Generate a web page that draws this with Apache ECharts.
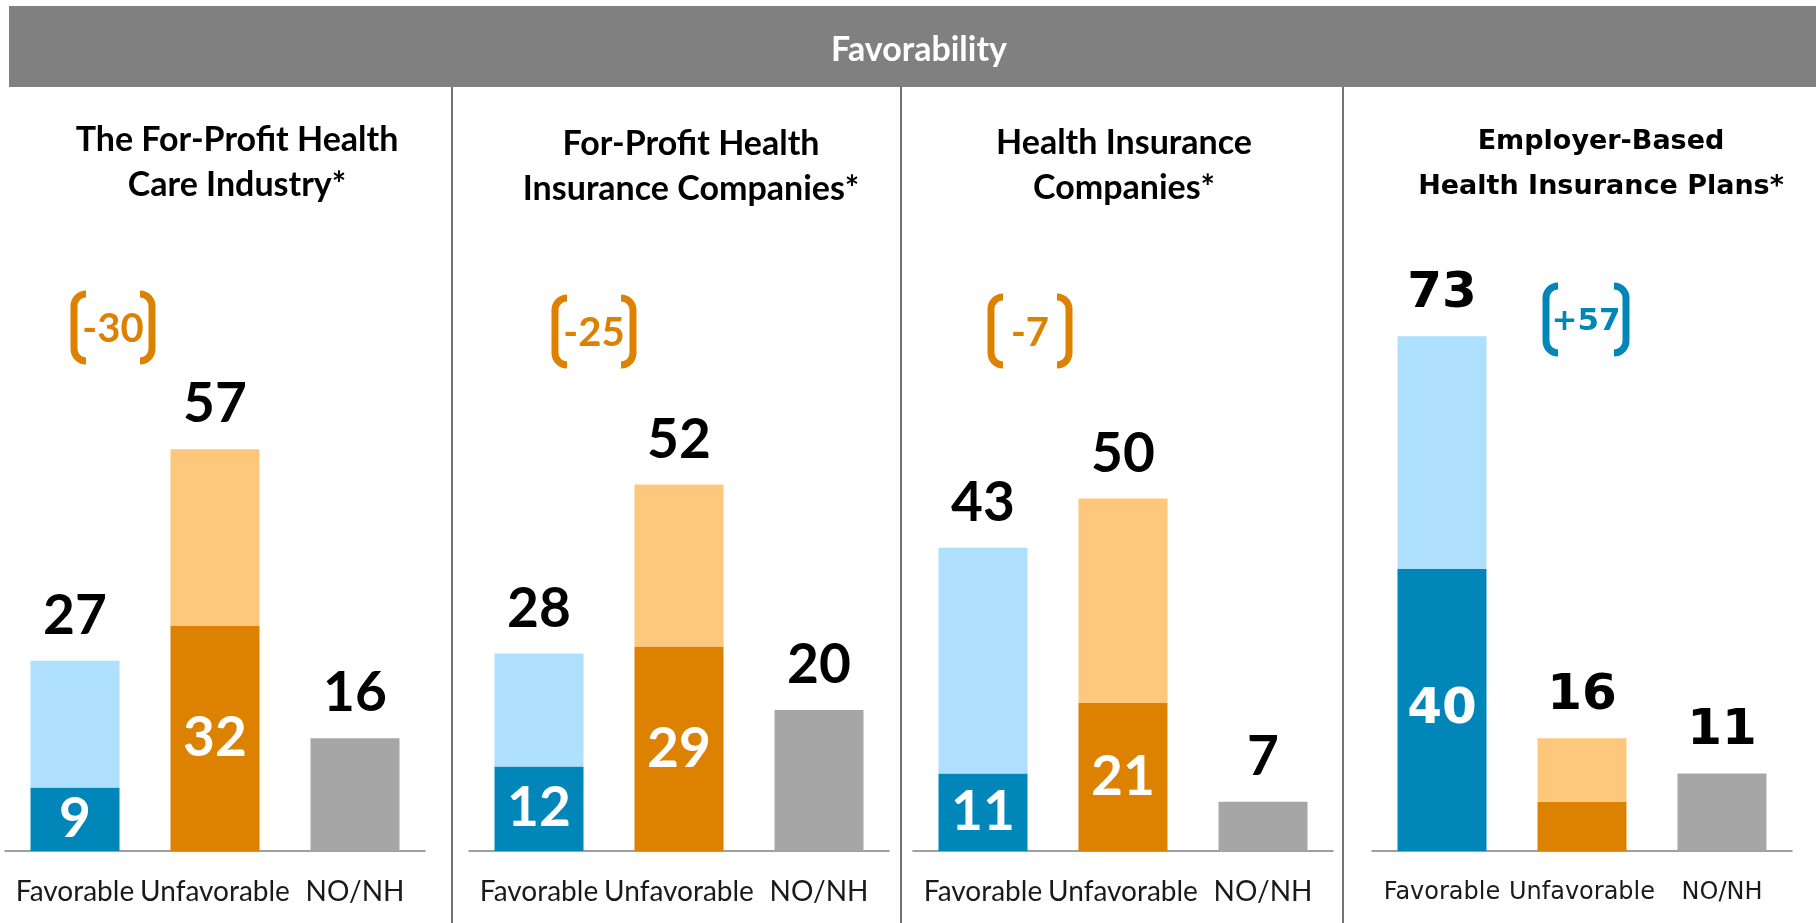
<!DOCTYPE html>
<html>
<head>
<meta charset="utf-8">
<script src="https://cdn.jsdelivr.net/npm/echarts@6/dist/echarts.min.js"></script>
<style>
  html, body { margin: 0; padding: 0; background: #fff; }
  #chart { width: 1816px; height: 923px; }
</style>
</head>
<body>
<div id="chart"></div>
<script>
// data
const panelTitles = [
  "The For-Profit Health\nCare Industry*",
  "For-Profit Health\nInsurance Companies*",
  "Health Insurance\nCompanies*",
  "Employer-Based\nHealth Insurance Plans*"
];
const categories = ["Favorable", "Unfavorable", "NO/NH"];
const favTotal = [27, 28, 43, 73];
const favStrong = [9, 12, 11, 40];
const unfavTotal = [57, 52, 50, 16];
const unfavStrong = [32, 29, 21, 7];
const noOpinion = [16, 20, 7, 11];
const netLabels = ["-30", "-25", "-7", "+57"];

// layout (px)
const gridLeft = [5, 469, 913, 1372];
const titleX = [232, 686, 1119, 1596];
const titleY = [114, 118, 117, 115];
const bracketBox = [
  { x: 70, y: 290, w: 86, h: 75 },
  { x: 551, y: 294, w: 86, h: 75 },
  { x: 987, y: 293, w: 86, h: 76 },
  { x: 1542, y: 282, w: 88, h: 75 }
];
const dividers = [452, 901, 1343];

const darkBlue = "#0086B8";
const lightBlue = "#AEDFFD";
const darkOrange = "#DD8200";
const lightOrange = "#FEC87C";
const grey = "#A6A6A6";

const chart = echarts.init(document.getElementById("chart"));

function fontFor(i) {
  return i === 3 ? "DejaVu Sans" : "Lato";
}

const grids = [], xAxes = [], yAxes = [], series = [], titles = [];

titles.push({
  text: "Favorability",
  left: 914, top: 28, textAlign: "center",
  textStyle: { color: "#fff", fontSize: 34, fontWeight: "bold", fontFamily: "Lato" }
});

for (let i = 0; i < 4; i++) {
  const ff = fontFor(i);
  grids.push({ left: gridLeft[i], width: 420, top: 287, height: 564 });
  xAxes.push({
    type: "category", gridIndex: i, data: categories,
    axisTick: { show: false },
    axisLine: { lineStyle: { color: "#808080", width: 1.5 } },
    axisLabel: {
      margin: i === 3 ? 30 : 27, color: "#1a1a1a", fontFamily: ff,
      fontSize: i === 3 ? 24 : 28, interval: 0
    }
  });
  yAxes.push({ type: "value", gridIndex: i, min: 0, max: 80, show: false });

  titles.push({
    text: panelTitles[i],
    left: titleX[i], top: titleY[i] - 1, textAlign: "center",
    textStyle: {
      color: "#000", fontWeight: "bold", fontFamily: ff,
      fontSize: i === 3 ? 27 : 34, lineHeight: 45
    }
  });

  const topLabel = (txt) => ({
    show: true, position: "top", distance: 17, formatter: txt,
    color: "#000", fontWeight: "bold", fontFamily: ff, fontSize: i === 3 ? 50 : 55
  });
  const innerLabel = (v) => ({
    show: v >= 9, position: "inside", formatter: String(v),
    color: "#fff", fontWeight: "bold", fontFamily: ff, fontSize: i === 3 ? 50 : 55
  });

  series.push({
    type: "bar", name: "Strong", stack: "p" + i,
    xAxisIndex: i, yAxisIndex: i, barWidth: 89, silent: true,
    data: [
      { value: favStrong[i], itemStyle: { color: darkBlue }, label: innerLabel(favStrong[i]) },
      { value: unfavStrong[i], itemStyle: { color: darkOrange }, label: innerLabel(unfavStrong[i]) },
      { value: noOpinion[i], itemStyle: { color: grey }, label: topLabel(String(noOpinion[i])) }
    ]
  });
  series.push({
    type: "bar", name: "Somewhat", stack: "p" + i,
    xAxisIndex: i, yAxisIndex: i, barWidth: 89, silent: true,
    data: [
      { value: favTotal[i] - favStrong[i], itemStyle: { color: lightBlue }, label: topLabel(String(favTotal[i])) },
      { value: unfavTotal[i] - unfavStrong[i], itemStyle: { color: lightOrange }, label: topLabel(String(unfavTotal[i])) },
      "-"
    ]
  });
}

// header band, dividers, net brackets
const graphics = [
  { type: "rect", z: -1, shape: { x: 9, y: 6, width: 1807, height: 81 }, style: { fill: "#808080" } }
];
dividers.forEach((x) => {
  graphics.push({
    type: "line", shape: { x1: x, y1: 87, x2: x, y2: 923 },
    style: { stroke: "#444", lineWidth: 1.5 }
  });
});
bracketBox.forEach((b, i) => {
  const c = netLabels[i].startsWith("+") ? darkBlue : darkOrange;
  const r = 12, x0 = b.x + 4, x1 = b.x + b.w - 4, y0 = b.y + 4, y1 = b.y + b.h - 4;
  const st = { stroke: c, lineWidth: 7, fill: null };
  const P = Math.PI;
  graphics.push(
    { type: "line", shape: { x1: x0, y1: y0 + r, x2: x0, y2: y1 - r }, style: st },
    { type: "line", shape: { x1: x1, y1: y0 + r, x2: x1, y2: y1 - r }, style: st },
    { type: "arc", shape: { cx: x0 + r, cy: y0 + r, r: r, startAngle: P, endAngle: 1.5 * P, clockwise: true }, style: st },
    { type: "arc", shape: { cx: x0 + r, cy: y1 - r, r: r, startAngle: 0.5 * P, endAngle: P, clockwise: true }, style: st },
    { type: "arc", shape: { cx: x1 - r, cy: y0 + r, r: r, startAngle: 1.5 * P, endAngle: 2 * P, clockwise: true }, style: st },
    { type: "arc", shape: { cx: x1 - r, cy: y1 - r, r: r, startAngle: 0, endAngle: 0.5 * P, clockwise: true }, style: st },
    {
      type: "text",
      style: {
        x: b.x + b.w / 2, y: b.y + b.h / 2 + 2, text: netLabels[i],
        align: "center", verticalAlign: "middle",
        fill: c, fontWeight: "bold", fontFamily: fontFor(i), fontSize: i === 3 ? 31 : 40
      }
    }
  );
});

chart.setOption({
  animation: false,
  backgroundColor: "#fff",
  title: titles,
  grid: grids,
  xAxis: xAxes,
  yAxis: yAxes,
  series: series,
  graphic: graphics
});
</script>
</body>
</html>
